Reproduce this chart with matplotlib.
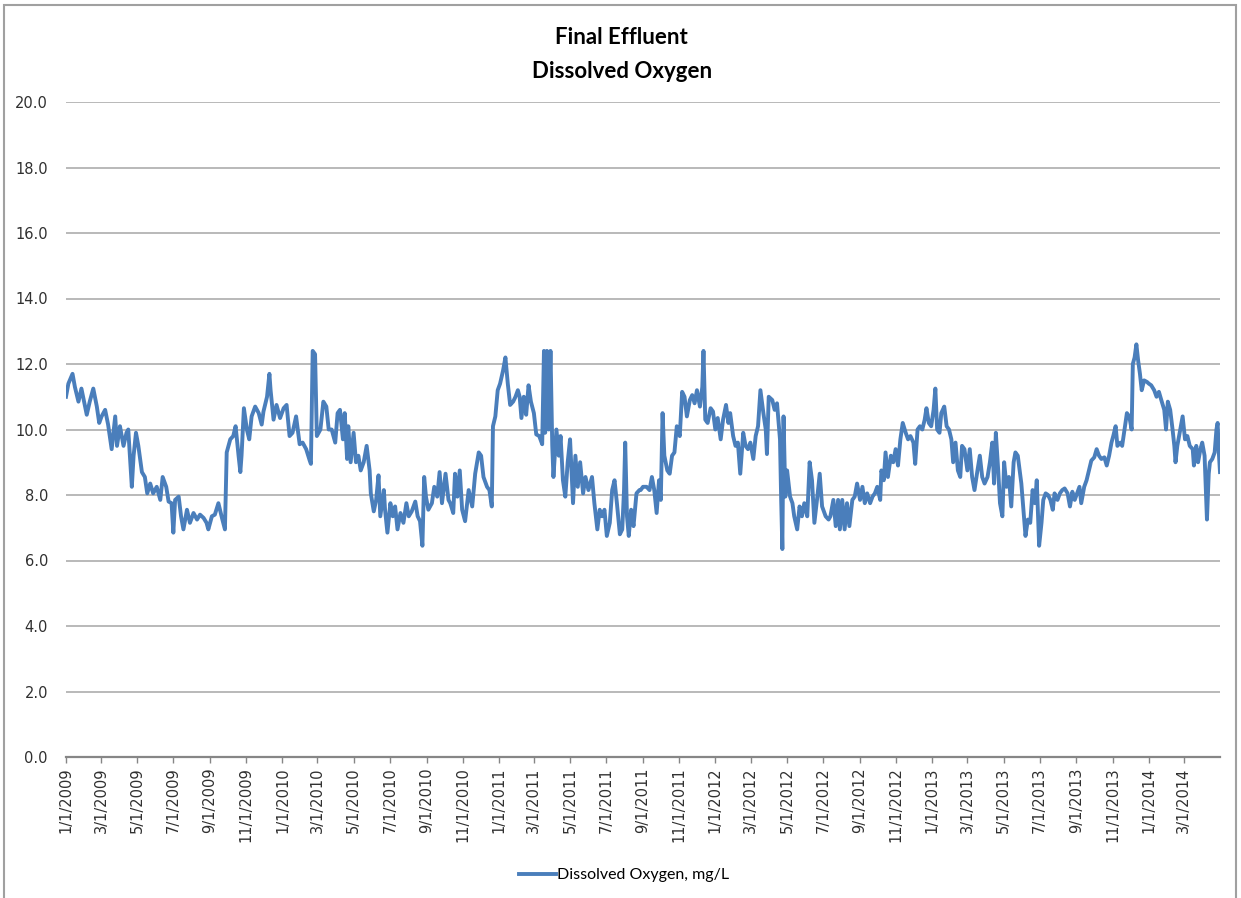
#!/usr/bin/env python3

import numpy as np
import pandas as pd
import matplotlib
matplotlib.use("Agg")
import matplotlib.pyplot as plt
from matplotlib.patches import Rectangle

# days since 1/1/2009 and dissolved oxygen (mg/L)
day = [
    0, 4, 11, 15, 21, 26, 30, 35, 40, 46, 52, 56, 60, 66, 71, 77, 83, 86, 91, 97,
    102, 105, 111, 114, 118, 122, 128, 133, 137, 142, 147, 153, 159, 163, 169, 173, 178, 181, 184, 190,
    194, 198, 204, 209, 215, 221, 226, 232, 237, 240, 246, 251, 257, 263, 268, 271, 277, 282, 286, 291,
    294, 296, 300, 305, 309, 313, 319, 325,
    330, 333, 339, 343, 345, 350, 355, 361, 367, 372, 377, 382, 388, 394, 399, 405, 411, 413, 416, 420,
    423, 429, 434, 439, 443, 448, 454, 458, 462, 467, 470, 474, 476, 480, 485, 489, 493, 497, 502, 507,
    512, 514, 519, 523, 527, 530, 536, 538, 542, 547, 551, 555, 559, 564, 569, 574, 578, 583, 589, 593,
    597, 601, 604, 607, 611, 617, 621, 626, 630, 634, 640, 645,
    648, 653, 656, 660, 664, 668, 673, 679, 685, 690, 696, 700, 704, 710, 714, 718, 720, 724, 728, 732,
    737, 741, 745, 749, 754, 758, 762, 765, 768, 772, 776, 780, 784, 789, 793, 798, 803, 806, 808, 811,
    814, 817, 820, 822, 827, 831, 834, 838, 842, 846, 850, 855, 859, 863, 867, 872, 876, 881, 887, 891,
    896, 900, 904, 908, 912, 917, 921, 925, 929, 934, 938, 941, 943, 946, 949, 953, 957, 962, 967,
    969, 973, 979, 984, 988, 992, 996, 1000, 1003, 1006, 1009, 1014, 1018, 1022, 1026, 1030, 1035, 1039, 1043, 1047,
    1052, 1056, 1060, 1064, 1069, 1073, 1075, 1078, 1082, 1087, 1091, 1095, 1099, 1104, 1108, 1113, 1117, 1120, 1125, 1129,
    1133, 1137, 1142, 1146, 1150, 1154, 1159, 1163, 1167, 1171, 1176, 1180, 1182, 1185, 1191, 1195, 1199, 1204, 1206, 1208,
    1210, 1213, 1216, 1221, 1225, 1228, 1233, 1237, 1241, 1245, 1250, 1254, 1258, 1262, 1267, 1271, 1275, 1281, 1286,
    1289, 1294, 1298, 1302, 1305, 1309, 1313, 1317, 1321, 1326, 1330, 1334, 1339, 1343, 1347, 1351, 1356, 1360, 1364, 1368,
    1373, 1375, 1379, 1382, 1386, 1391, 1395, 1399, 1403, 1407, 1411, 1416, 1420, 1424, 1429, 1432, 1436, 1440, 1444, 1448,
    1451, 1455, 1459, 1463, 1466, 1469, 1473, 1476, 1481, 1485, 1489, 1493, 1496, 1500, 1504, 1508, 1511, 1515, 1520, 1524,
    1528, 1532, 1537, 1541, 1545, 1549, 1554, 1558, 1562, 1565, 1568, 1572, 1575, 1579, 1582, 1586, 1590, 1594, 1598, 1601,
    1605, 1609,
    1611, 1614, 1618, 1622, 1626, 1630, 1634, 1637, 1641, 1645, 1648, 1652, 1656, 1660, 1664, 1667, 1672, 1676, 1680, 1684,
    1689, 1693, 1697, 1701, 1705, 1709, 1712, 1717, 1721, 1725, 1729, 1734, 1738, 1742, 1746, 1751, 1755, 1759, 1763, 1766,
    1770, 1773, 1778, 1781, 1785, 1789, 1793, 1797, 1799, 1802, 1805, 1808, 1811, 1814, 1818, 1823, 1826, 1830, 1835, 1839,
    1843, 1847, 1852, 1855, 1858, 1862, 1866, 1869, 1871, 1874, 1879, 1883, 1887, 1891, 1895, 1900, 1902, 1906, 1909, 1913,
    1916, 1920, 1924, 1927, 1929, 1933, 1937, 1940, 1942, 1944, 1946,
]
do_mgl = [
    11.0, 11.4, 11.7, 11.3, 10.85, 11.25, 10.9, 10.45, 10.85, 11.25, 10.7, 10.2, 10.4, 10.6, 10.15, 9.4, 10.4, 9.5, 10.1, 9.5,
    9.9, 10.0, 8.25, 9.2, 9.9, 9.5, 8.7, 8.55, 8.05, 8.35, 8.05, 8.25, 7.85, 8.55, 8.25, 7.8, 7.75, 6.85, 7.85, 7.95,
    7.35, 6.95, 7.55, 7.15, 7.45, 7.25, 7.4, 7.3, 7.15, 6.95, 7.35, 7.4, 7.75, 7.3, 6.95, 9.3, 9.7, 9.8, 10.1, 9.2,
    8.7, 9.2, 10.65, 10.0, 9.7, 10.4, 10.7, 10.5,
    10.15, 10.55, 11.0, 11.7, 11.2, 10.3, 10.75, 10.35, 10.65, 10.75, 9.8, 9.9, 10.4, 9.55, 9.6, 9.4, 9.05, 8.95, 12.4, 12.3,
    9.8, 10.0, 10.85, 10.7, 10.0, 10.0, 9.6, 10.5, 10.6, 9.7, 10.5, 9.1, 10.1, 9.0, 9.9, 9.0, 9.2, 8.75, 9.0, 9.5,
    8.75, 8.05, 7.5, 7.85, 8.6, 7.35, 8.15, 7.55, 6.85, 7.75, 7.35, 7.65, 6.95, 7.45, 7.15, 7.75, 7.35, 7.5, 7.8, 7.35,
    7.2, 6.45, 8.55, 7.95, 7.55, 7.75, 8.25, 7.95, 8.7, 7.75, 8.65, 7.85,
    7.75, 7.45, 8.65, 7.95, 8.75, 7.55, 7.2, 8.15, 7.65, 8.65, 9.3, 9.2, 8.55, 8.25, 8.15, 7.65, 10.1, 10.4, 11.2, 11.4,
    11.8, 12.2, 11.4, 10.75, 10.85, 11.0, 11.2, 11.0, 10.35, 11.0, 10.45, 11.35, 10.85, 10.5, 9.85, 9.8, 9.55, 12.4, 9.9, 12.4,
    10.0, 12.4, 9.5, 8.55, 10.0, 9.2, 9.8, 8.45, 7.95, 9.0, 9.7, 7.75, 9.2, 8.25, 9.0, 8.05, 8.55, 8.15, 8.55, 7.75,
    6.95, 7.55, 7.35, 7.55, 6.75, 7.15, 8.15, 8.45, 7.75, 6.8, 6.95, 8.15, 9.6, 7.35, 6.75, 7.55, 7.05, 8.05, 8.15,
    8.15, 8.25, 8.25, 8.15, 8.55, 8.15, 7.45, 8.45, 7.85, 10.5, 9.2, 8.75, 8.65, 9.2, 9.3, 10.1, 9.8, 11.15, 11.0, 10.4,
    10.9, 11.05, 10.8, 11.2, 10.7, 11.3, 12.4, 10.3, 10.2, 10.65, 10.55, 10.0, 10.35, 9.7, 10.3, 10.75, 10.2, 10.5, 9.8, 9.5,
    9.6, 8.65, 9.9, 9.5, 9.4, 9.6, 9.1, 9.8, 10.1, 11.2, 10.5, 10.0, 9.25, 11.0, 10.9, 10.6, 10.8, 9.7, 7.85, 6.35,
    10.4, 7.95, 8.75, 7.95, 7.75, 7.35, 6.95, 7.65, 7.35, 7.75, 7.35, 9.0, 8.45, 7.15, 7.95, 8.65, 7.65, 7.35, 7.25,
    7.35, 7.85, 7.05, 7.85, 6.95, 7.85, 6.95, 7.75, 7.05, 7.85, 7.95, 8.35, 7.85, 8.25, 7.75, 8.05, 7.75, 7.95, 8.05, 8.25,
    7.85, 8.75, 8.45, 9.3, 8.55, 9.2, 9.0, 9.4, 8.9, 9.7, 10.2, 9.9, 9.7, 9.8, 9.6, 8.95, 10.0, 10.1, 10.0, 10.3,
    10.65, 10.2, 10.1, 10.6, 11.25, 10.0, 9.9, 10.5, 10.7, 10.1, 10.0, 9.7, 9.0, 9.6, 8.75, 8.55, 9.5, 9.4, 8.75, 9.4,
    8.55, 8.15, 8.75, 9.2, 8.55, 8.35, 8.55, 9.0, 9.6, 8.35, 9.9, 8.75, 7.75, 7.35, 9.0, 8.25, 8.55, 7.65, 9.0, 9.3,
    9.2, 8.65,
    8.35, 7.65, 6.75, 7.25, 7.15, 8.15, 7.75, 8.45, 6.45, 7.15, 7.85, 8.05, 8.0, 7.85, 7.55, 8.05, 7.85, 8.05, 8.15, 8.2,
    8.05, 7.65, 8.1, 7.85, 8.05, 8.25, 7.75, 8.25, 8.45, 8.75, 9.05, 9.15, 9.4, 9.2, 9.1, 9.15, 8.9, 9.2, 9.6, 9.8,
    10.1, 9.5, 9.6, 9.5, 10.0, 10.5, 10.4, 10.0, 12.0, 12.2, 12.6, 12.1, 11.7, 11.2, 11.5, 11.45, 11.4, 11.35, 11.2, 11.0,
    11.15, 10.9, 10.6, 10.0, 10.85, 10.6, 10.0, 9.5, 9.0, 9.5, 10.0, 10.4, 9.7, 9.8, 9.5, 9.4, 8.9, 9.5, 9.0, 9.4,
    9.6, 9.2, 7.25, 8.65, 9.0, 9.1, 9.3, 10.0, 10.2, 9.3, 8.7,
]

dates = np.datetime64('2009-01-01') + np.array(day).astype('timedelta64[D]')
tick_dates = pd.date_range('2009-01-01', '2014-03-01', freq='2MS')
tick_labels = [f"{d.month}/{d.day}/{d.year}" for d in tick_dates]

W, H = 1241, 898
fig = plt.figure(figsize=(W / 100, H / 100), dpi=100)
ax = fig.add_axes([66 / W, 1 - 757 / H, (1220 - 66) / W, (757 - 102) / H])

ax.plot(dates, do_mgl, color='#4a7ebb', linewidth=2.8, label='Dissolved Oxygen, mg/L',
        solid_joinstyle='round')

ax.set_xlim(dates[0], dates[-1])
ax.set_ylim(0, 20)
ax.set_yticks(np.arange(0, 20.1, 2))
ax.set_yticklabels([f"{v:.1f}" for v in np.arange(0, 20.1, 2)], fontsize=10.5, color='#303030')
ax.set_xticks(tick_dates)
ax.set_xticklabels(tick_labels, rotation=90, fontsize=10.5, color='#303030', va='top')
ax.tick_params(axis='y', length=0, pad=13)
ax.tick_params(axis='x', direction='out', length=4.5, width=1, color='#868686', pad=3)

ax.yaxis.grid(True, color='#a6a6a6', linewidth=1.1)
ax.set_axisbelow(True)
for s in ['left', 'top', 'right']:
    ax.spines[s].set_visible(False)
ax.spines['bottom'].set_color('#868686')
ax.spines['bottom'].set_linewidth(1.6)

fig.text(0.501, 1 - 37 / H, "Final Effluent", ha='center', va='center',
         fontsize=16, fontweight='bold', family='Lato')
fig.text(0.501, 1 - 71 / H, "Dissolved Oxygen", ha='center', va='center',
         fontsize=16, fontweight='bold', family='Lato')

fig.legend(loc='center', bbox_to_anchor=(624 / W, 1 - 875 / H), frameon=False,
           handlelength=2.3, handletextpad=0.1, prop={'family': 'Lato', 'size': 11.5})

fig.patches.append(Rectangle((4 / W, -0.01), (1236 - 4) / W, 1.01 - 5 / H,
                             transform=fig.transFigure, fill=False,
                             edgecolor='#a0a0a0', linewidth=1.5))

fig.savefig('out.png', dpi=100)
